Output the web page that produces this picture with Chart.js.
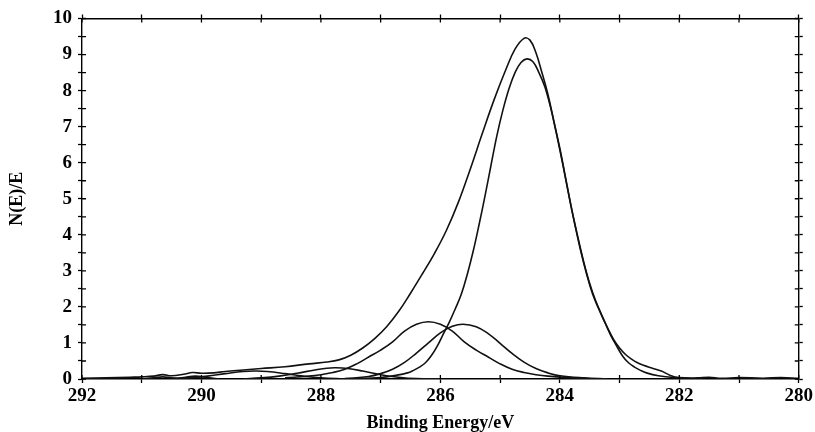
<!DOCTYPE html>
<html>
<head>
<meta charset="utf-8">
<script src="https://cdn.jsdelivr.net/npm/chart.js@4/dist/chart.umd.min.js"></script>
<style>
	html, body { margin: 0; padding: 0; background: #fff; }
	#wrap { width: 815px; height: 432px; }
</style>
</head>
<body>
<div id="wrap"><canvas id="xps" width="815" height="432"></canvas></div>
<script>
// binding energy (eV) / intensity
var envelopeX = [292.0, 291.6, 291.2, 291.0, 290.8, 290.65, 290.5, 290.3, 290.15, 290.0, 289.8, 289.6, 289.3, 289.0, 288.6, 288.2, 287.9, 287.7, 287.5, 287.3, 287.1, 286.9, 286.7, 286.5, 286.3, 286.1, 285.9, 285.7, 285.5, 285.3, 285.1, 284.9, 284.75, 284.6, 284.5, 284.4, 284.3, 284.2, 284.1, 284.0, 283.9, 283.8, 283.7, 283.6, 283.5, 283.4, 283.3, 283.2, 283.1, 283.0, 282.9, 282.8, 282.7, 282.6, 282.45, 282.3, 282.15, 282.0, 281.7, 281.5, 281.3, 281.0, 280.6, 280.3, 280.0];
var envelopeY = [0.02, 0.03, 0.05, 0.06, 0.08, 0.12, 0.09, 0.13, 0.18, 0.16, 0.17, 0.21, 0.25, 0.29, 0.34, 0.42, 0.47, 0.53, 0.66, 0.86, 1.12, 1.45, 1.87, 2.38, 2.92, 3.48, 4.12, 4.90, 5.82, 6.80, 7.75, 8.60, 9.15, 9.45, 9.40, 9.05, 8.50, 7.90, 7.15, 6.40, 5.55, 4.70, 3.95, 3.25, 2.65, 2.17, 1.78, 1.42, 1.10, 0.86, 0.68, 0.55, 0.45, 0.38, 0.30, 0.22, 0.10, 0.04, 0.03, 0.05, 0.02, 0.04, 0.02, 0.04, 0.02];

var mainX = [287.5, 287.0, 286.75, 286.55, 286.45, 286.35, 286.25, 286.15, 286.05, 285.95, 285.85, 285.75, 285.65, 285.55, 285.45, 285.35, 285.25, 285.15, 285.05, 284.95, 284.85, 284.75, 284.65, 284.55, 284.45, 284.35, 284.25, 284.15, 284.05, 283.95, 283.85, 283.75, 283.65, 283.55, 283.45, 283.35, 283.25, 283.15, 283.05, 282.95, 282.85, 282.75, 282.65, 282.55, 282.35, 282.1, 281.6];
var mainY = [0.0, 0.04, 0.10, 0.17, 0.24, 0.33, 0.45, 0.65, 0.92, 1.25, 1.58, 1.95, 2.35, 2.90, 3.55, 4.30, 5.10, 5.95, 6.78, 7.48, 8.06, 8.50, 8.78, 8.88, 8.80, 8.50, 8.10, 7.50, 6.75, 5.95, 5.10, 4.30, 3.55, 2.90, 2.35, 1.95, 1.58, 1.22, 0.92, 0.64, 0.45, 0.33, 0.24, 0.17, 0.09, 0.04, 0.0];

var peakBX = [288.6, 288.2, 288.0, 287.8, 287.6, 287.4, 287.2, 287.0, 286.8, 286.6, 286.4, 286.2, 286.0, 285.8, 285.6, 285.4, 285.2, 285.0, 284.8, 284.6, 284.4, 284.2, 283.8, 283.4];
var peakBY = [0.03, 0.08, 0.12, 0.18, 0.27, 0.42, 0.61, 0.80, 1.03, 1.33, 1.52, 1.59, 1.52, 1.33, 1.03, 0.80, 0.61, 0.42, 0.27, 0.18, 0.12, 0.08, 0.03, 0.0];

var peakCX = [287.6, 287.2, 287.0, 286.8, 286.6, 286.4, 286.2, 286.0, 285.8, 285.62, 285.4, 285.2, 285.0, 284.8, 284.6, 284.4, 284.2, 284.0, 283.6, 283.2];
var peakCY = [0.01, 0.07, 0.15, 0.27, 0.46, 0.72, 1.00, 1.28, 1.46, 1.52, 1.45, 1.26, 0.99, 0.71, 0.47, 0.29, 0.17, 0.09, 0.03, 0.0];

var peakDX = [289.3, 289.0, 288.7, 288.4, 288.1, 287.9, 287.75, 287.55, 287.3, 287.0, 286.7, 286.4, 286.0];
var peakDY = [0.0, 0.03, 0.08, 0.16, 0.25, 0.30, 0.31, 0.29, 0.22, 0.12, 0.05, 0.01, 0.0];

var peakEX = [290.5, 290.2, 289.9, 289.6, 289.3, 289.1, 288.9, 288.6, 288.3, 288.0, 287.6];
var peakEY = [0.0, 0.03, 0.08, 0.15, 0.21, 0.22, 0.21, 0.15, 0.08, 0.03, 0.0];

var peakFX = [290.5, 290.3, 290.1, 289.9, 289.7];
var peakFY = [0.0, 0.04, 0.08, 0.04, 0.0];

var peakGX = [291.0, 290.8, 290.65, 290.5, 290.3];
var peakGY = [0.0, 0.03, 0.06, 0.03, 0.0];

var xTickLabels = [292, 290, 288, 286, 284, 282, 280];
var yTickLabels = [0, 1, 2, 3, 4, 5, 6, 7, 8, 9, 10];

function pairs(xs, ys) {
	var out = [];
	for (var i = 0; i < xs.length; i++) {
		out.push({ x: xs[i], y: ys[i] });
	}
	return out;
}

function curve(xs, ys) {
	return {
		data: pairs(xs, ys),
		borderColor: '#111',
		borderWidth: 1.6,
		pointRadius: 0,
		fill: false,
		tension: 0.4
	};
}

var serif = "'Liberation Serif', 'Times New Roman', serif";

// ticks cross the frame: chart.js draws the outer half, this draws the inner half
var innerTicks = {
	id: 'innerTicks',
	afterDraw: function(chart) {
		var ctx = chart.ctx;
		var a = chart.chartArea;
		var sx = chart.scales.x;
		var sy = chart.scales.y;
		ctx.save();
		ctx.strokeStyle = '#000';
		ctx.lineWidth = 1.3;
		ctx.beginPath();
		sx.ticks.forEach(function(t) {
			var px = sx.getPixelForValue(t.value);
			ctx.moveTo(px, a.bottom);
			ctx.lineTo(px, a.bottom - 4);
			ctx.moveTo(px, a.top);
			ctx.lineTo(px, a.top + 4);
		});
		sy.ticks.forEach(function(t) {
			var py = sy.getPixelForValue(t.value);
			ctx.moveTo(a.left, py);
			ctx.lineTo(a.left + 4, py);
			ctx.moveTo(a.right, py);
			ctx.lineTo(a.right - 4, py);
		});
		ctx.stroke();
		ctx.restore();
	}
};

var frameGrid = {
	drawOnChartArea: false,
	drawTicks: true,
	tickLength: 4,
	tickWidth: 1.3,
	color: '#000'
};
var frameBorder = { display: true, color: '#000', width: 1.4 };

new Chart(document.getElementById('xps'), {
	type: 'line',
	data: {
		datasets: [
			curve(envelopeX, envelopeY),
			curve(mainX, mainY),
			curve(peakBX, peakBY),
			curve(peakCX, peakCY),
			curve(peakDX, peakDY),
			curve(peakEX, peakEY),
			curve(peakFX, peakFY),
			curve(peakGX, peakGY)
		]
	},
	options: {
		responsive: false,
		animation: false,
		layout: { padding: 0 },
		plugins: {
			legend: { display: false },
			tooltip: { enabled: false }
		},
		scales: {
			x: {
				type: 'linear',
				position: 'bottom',
				min: 280,
				max: 292,
				reverse: true,
				grid: frameGrid,
				border: frameBorder,
				ticks: {
					stepSize: 1,
					autoSkip: false,
					maxRotation: 0,
					padding: 2,
					color: '#000',
					font: { family: serif, size: 19, weight: 'bold' },
					callback: function(v) {
						return xTickLabels.indexOf(v) >= 0 ? String(v) : '';
					}
				},
				title: {
					display: true,
					text: 'Binding Energy/eV',
					color: '#000',
					font: { family: serif, size: 18, weight: 'bold', lineHeight: 1 },
					padding: 0
				},
				afterFit: function(s) { s.height = 53; }
			},
			x2: {
				type: 'linear',
				position: 'top',
				min: 280,
				max: 292,
				reverse: true,
				grid: frameGrid,
				border: frameBorder,
				ticks: { stepSize: 1, autoSkip: false, callback: function() { return ''; } },
				afterFit: function(s) { s.height = 18.5; }
			},
			y: {
				type: 'linear',
				position: 'left',
				min: 0,
				max: 10,
				grid: frameGrid,
				border: frameBorder,
				ticks: {
					stepSize: 0.5,
					autoSkip: false,
					padding: 6,
					color: '#000',
					font: { family: serif, size: 19, weight: 'bold' },
					callback: function(v) {
						return yTickLabels.indexOf(v) >= 0 ? String(v) : '';
					}
				},
				title: {
					display: true,
					text: 'N(E)/E',
					color: '#000',
					font: { family: serif, size: 18, weight: 'bold' },
					padding: { top: 7, bottom: 0 }
				},
				afterFit: function(s) { s.width = 82; }
			},
			y2: {
				type: 'linear',
				position: 'right',
				min: 0,
				max: 10,
				grid: frameGrid,
				border: frameBorder,
				ticks: { stepSize: 0.5, autoSkip: false, callback: function() { return ''; } },
				afterFit: function(s) { s.width = 14; }
			}
		}
	},
	plugins: [innerTicks]
});
</script>
</body>
</html>
